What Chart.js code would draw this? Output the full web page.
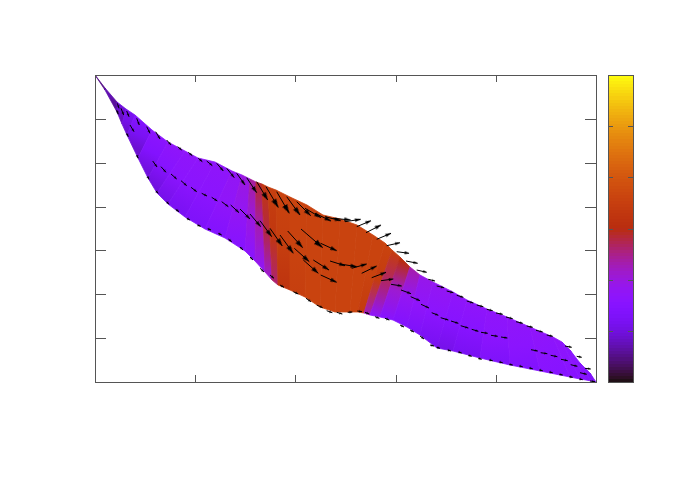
<!DOCTYPE html>
<html>
<head>
<meta charset="utf-8">
<style>
html,body{margin:0;padding:0;background:#fff}
canvas{position:absolute;left:0;top:0}
</style>
<script src="https://cdn.jsdelivr.net/npm/chart.js@4"></script>
</head>
<body>
<canvas id="main" width="692" height="485"></canvas>
<canvas id="bar" width="692" height="485"></canvas>
<script>
// Axis ticks (the reference prints no tick labels)
const xTicks = [0, 100.2, 200.4, 300.6, 400.8, 501];
const yTicks = [0, 43.86, 87.71, 131.57, 175.43, 219.29, 263.14, 307];
const cbTicks = [0, 1, 2, 3, 4, 5, 6];

// Band mesh: upper and lower edge stations
const topX = [0,10,22,31,40,57,73,90,103,120,137,147,155,161,167,173,181,195,212,228,245,262,278,290,297,305,315,325,338,358,372,392,412,435,458,467,475,485,495,501];
const topY = [307,294,280,273,267,252,240,231,224,220,211,207,203,200,198,195,192,185,177,167,163,157,147,139,132,125,115,107,100,90,82,73,65,55,45,40,32,19,9,0];
const botX = [0,10,22,27,32,43,53,62,73,90,110,130,150,160,170,177,183,195,210,225,240,255,263,269,275,285,298,312,325,342,358,385,415,445,475,485,491,496,499,501];
const botY = [307,292,270,258,247,224,204,189,178,165,153,144,131,121,110,102,97,92,85,75,70,70,70,69,67,65,62,55,47,34,31,24,17,11,5,3,2,1,0.5,0];

// Colour value of each station, at the upper edge, mid band and lower edge
const valTop = [0.5,0.7,1.0,1.2,1.4,1.6,1.7,1.7,1.7,1.7,1.8,2.0,2.4,2.9,3.3,3.5,3.6,3.6,3.6,3.6,3.6,3.6,3.6,3.6,3.4,3.0,2.3,1.9,1.8,1.7,1.7,1.7,1.7,1.7,1.7,1.6,1.5,1.4,1.3,1.2];
const valMid = [0.5,0.7,0.9,1.1,1.2,1.4,1.5,1.6,1.6,1.6,1.7,1.8,2.0,2.3,2.8,3.3,3.5,3.6,3.6,3.6,3.6,3.6,3.6,3.4,2.6,2.1,1.8,1.7,1.6,1.5,1.5,1.6,1.6,1.6,1.6,1.6,1.5,1.4,1.3,1.2];
const valBot = [0.5,0.6,0.8,0.9,0.9,1.0,1.0,1.1,1.2,1.3,1.4,1.5,1.6,1.8,2.1,2.6,3.2,3.5,3.6,3.6,3.6,3.6,3.4,2.2,1.7,1.5,1.4,1.3,1.2,1.1,1.2,1.3,1.4,1.5,1.5,1.5,1.4,1.3,1.3,1.2];

// Arrows: tail x, tail y, head x, head y
const upperArrows = [
[22.3,278.7,24,273.7],[26,273.7,28.7,267],[31.7,271,34,265.3],[35,257,39,250.3],[41.7,263.7,44.3,257],
[51.7,255.3,55,248.7],[60.7,250.3,65,243],[71.7,242,76,237],[82.7,235.3,86.7,232],[93.3,229.7,97.3,226.3],
[103.3,223.7,107.3,220.3],[111.7,221,117.3,216.3],[121.7,218.7,128.3,211],[131.7,213.7,139.3,204.3],[141.7,208.7,150,197],
[151.7,204.3,161.7,189.3],[161.7,200.3,172.7,182],[171,195.3,183.3,174.5],[181.7,190.3,194.3,168.7],[191.7,185.3,205,167],
[201.7,180.3,215.7,166.3],[210,173.7,226,164.3],[220,168.7,236,161],[230,165.3,245.7,161.3],[238.3,163.7,255.7,162],
[250,160.3,265.7,162.7],[261.7,155.3,276,161.3],[271,149.3,286,157],[281.7,142.7,296,148.7],[291.7,136.3,305,139.3],
[301.7,130.3,314,128.7],[311,121,322.7,118.7],[321.7,112,331.7,109.7],[333.3,102.7,340,101],[341.7,96,349,94.3],
[351.7,91,358.3,89.3],[361.7,86.7,368.3,84.7],[371.7,81,378.3,79],[381.7,77,388.3,75.3],[391.7,72.7,397.7,71.3],
[401,69,407.7,67.7],[411,65,417.7,63.3],[421,60.3,427.7,58.7],[431.7,56,437.7,54.7],[441,51.7,447.7,50],
[451.7,47,457.7,45.7],[470,36,476.7,34.7],[481.7,25.7,486.7,24.7],[490,13.7,495.7,13]
];
const middleArrows = [
[57.7,221,62,215],[66,215.3,71,209.7],[76,208,81.7,203],[86,201.3,91.7,196.3],[96,194.7,101.7,190.3],
[106.7,188.7,112,186],[116.7,184.7,122.3,181],[126.7,180.3,133.3,175.3],[135.7,177,144,169.3],[145,173,155,163],
[155,168,165.7,155.3],[165,161.3,176.7,145.3],[175,153.7,187.3,136],[185,147,198.3,128.7],[192.7,151,207.7,134.3],
[199.3,133.7,214.3,120.3],[206,153,227.7,134.3],[208.3,122,223.3,108.7],[218.3,122,234,112],[225.7,138.7,241.7,131.3],
[225.7,107,241.7,99.7],[235,121,250,116.3],[245,118,261.7,115.3],[256.7,113.7,271.7,118],[266.7,108.7,281.7,116],
[276.7,104.3,291,109.7],[286,101.3,298.3,103],[296,97.7,306.7,96],[306,92,316,88.3],[315.7,85.3,325,81.3],
[326,77.7,334,74],[336.7,69.3,343.3,66.7],[345.7,64.3,353.3,62],[356,61,363.3,58.7],[365.7,56.3,373.3,54],
[376.7,52.7,383.3,50.7],[386,49.7,392.7,48.7],[396,46.7,402.7,45.7],[406,45,412.3,44],[436,32.3,442.7,31],
[445.7,29.3,452.3,28.3],[455.7,26.7,462.3,25.3],[466,22.7,472.7,21.3],[475.7,17.3,482.3,15.7],[485,9.3,491.7,7.7]
];
const lowerArrows = [
[21.7,272,23.3,267.7],[31.7,248.7,33.3,245.3],[41.7,227,43.3,223.7],[52.7,205.3,54,202.7],[61,191,63.3,188.7],
[71.7,180.3,74,177.7],[80.7,172.7,84,170.3],[91.7,163.7,95,162],[102.3,157,105.7,155.7],[112.7,153.3,116,152],
[123.3,148.7,126.7,147],[133.3,143,136.7,140.3],[145,135,148,132],[155,125,158,122],[165,113.7,169,110],
[175,107,179,103.7],[185,97,189,94.7],[198.3,90.3,203.3,88],[211,83.7,216,80.3],[221.7,77,227.7,74.3],
[231.7,71.3,237.3,69.3],[241.7,69.7,247.3,68],[252.7,69.7,257.3,70],[262.3,71,267,70.3],[270,69.7,274.3,68],
[280,65.3,284.3,63.7],[290,63.7,294.3,62],[305,57,309,55],[315,52,319,50],[325,46,329,43],[335,37,339,36],
[341.7,34.7,345,33.7],[352.7,32,356,31],[363.3,30,366.7,29],[373.3,26.7,376.7,25.7],[383.3,23.7,386.7,22.7],
[394.3,22,397.7,21.3],[404.3,20,407.7,19.3],[414.3,17.7,417.7,17],[424.3,16,427.7,15.3],[434.3,14,437.7,13.3],
[444.3,12,447.7,11.3],[454.3,10,457.7,9.3],[464.3,7.7,467.7,7],[474.3,5.3,477.7,4.7],[484.3,3,487.7,2.3],[495,1,500,0.3]
];

const CB_MAX = 6, CB_LEVELS = 100, WASH = 0.06;
function palette(v){
  const t = Math.min(1, Math.max(0, v / CB_MAX));
  const r = Math.sqrt(t), g = t*t*t, b = Math.max(0, Math.sin(2*Math.PI*t));
  return 'rgb(' + [r,g,b].map(c => Math.round((c*(1-WASH)+WASH)*255)).join(',') + ')';
}

function headCanvas(len){
  const L = Math.max(3, Math.min(9, len*0.36)), W = Math.max(2.2, L*0.62);
  const c = document.createElement('canvas');
  c.width = Math.ceil(2*L); c.height = Math.ceil(W)+2;
  const g = c.getContext('2d'), m = c.height/2, tip = c.width/2;
  g.fillStyle = '#000';
  g.beginPath(); g.moveTo(tip-L, m-W/2); g.lineTo(tip, m); g.lineTo(tip-L, m+W/2); g.closePath(); g.fill();
  return c;
}

const datasets = [];
[...upperArrows, ...middleArrows, ...lowerArrows].forEach(a => {
  const img = headCanvas(Math.hypot(a[2]-a[0], a[3]-a[1]));
  datasets.push({
    data: [{x:a[0],y:a[1]},{x:a[2],y:a[3]}],
    showLine: true, borderColor:'#000', borderWidth:1, fill:false,
    pointRadius:[0,3], pointStyle:img, pointBorderWidth:0, pointBackgroundColor:'#000',
    pointRotation: ctx => {
      const s = ctx.chart.scales;
      if(!s.x || !s.y) return 0;
      const dx = s.x.getPixelForValue(a[2])-s.x.getPixelForValue(a[0]);
      const dy = s.y.getPixelForValue(a[3])-s.y.getPixelForValue(a[1]);
      return Math.atan2(dy,dx)*180/Math.PI;
    }
  });
});
for(let i=topX.length-2;i>=0;i--){
  const shade = ctx => {
    const a = ctx.chart.chartArea, s = ctx.chart.scales;
    if(!a) return palette(valMid[i]);
    const x0=s.x.getPixelForValue((topX[i]+topX[i+1])/2), y0=s.y.getPixelForValue((topY[i]+topY[i+1])/2);
    const x1=s.x.getPixelForValue((botX[i]+botX[i+1])/2), y1=s.y.getPixelForValue((botY[i]+botY[i+1])/2);
    const g = ctx.chart.ctx.createLinearGradient(x0,y0,x1,y1);
    g.addColorStop(0,palette(valTop[i])); g.addColorStop(0.5,palette(valMid[i])); g.addColorStop(1,palette(valBot[i]));
    return g;
  };
  datasets.push({
    data: [{x:topX[i],y:topY[i]},{x:topX[i+1],y:topY[i+1]},{x:botX[i+1],y:botY[i+1]},{x:botX[i],y:botY[i]},{x:topX[i],y:topY[i]}],
    showLine:true, fill:'shape', tension:0, pointRadius:0, borderWidth:0.8,
    backgroundColor:shade, borderColor:shade
  });
}

const FRAME = '#555';
function frameTicks(xLen,yLen){
  return { id:'frameTicks', afterDraw(chart){
    const c=chart.ctx, a=chart.chartArea, sx=chart.scales.x, sy=chart.scales.y;
    c.save(); c.strokeStyle=FRAME; c.lineWidth=1;
    c.beginPath();
    if(xLen) sx.ticks.forEach((t,i)=>{ if(i===0||i===sx.ticks.length-1) return; const p=Math.round(sx.getPixelForValue(t.value))+.5;
      c.moveTo(p,a.top); c.lineTo(p,a.top+xLen); c.moveTo(p,a.bottom); c.lineTo(p,a.bottom-xLen); });
    sy.ticks.forEach((t,i)=>{ if(i===0||i===sy.ticks.length-1) return; const p=Math.round(sy.getPixelForValue(t.value))+.5;
      c.moveTo(a.left,p); c.lineTo(a.left+yLen,p); c.moveTo(a.right,p); c.lineTo(a.right-yLen,p); });
    c.stroke();
    c.strokeRect(a.left+.5,a.top+.5,a.right-a.left,a.bottom-a.top);
    c.restore();
  }};
}
const hiddenAxis = {ticks:{display:false},grid:{display:false},border:{display:false}};
const noWidth = s => { s.width = 0; };
const noHeight = s => { s.height = 0; };

new Chart(document.getElementById('main'),{
  type:'scatter',
  data:{datasets},
  plugins:[frameTicks(7,11)],
  options:{
    responsive:false, animation:false, events:[],
    layout:{padding:{left:95,top:75,right:96,bottom:103}},
    plugins:{legend:{display:false},tooltip:{enabled:false},title:{display:false}},
    scales:{
      x:{...hiddenAxis,type:'linear',min:0,max:501,afterFit:noHeight,afterBuildTicks:s=>{s.ticks=xTicks.map(v=>({value:v}));}},
      y:{...hiddenAxis,type:'linear',min:0,max:307,afterFit:noWidth,afterBuildTicks:s=>{s.ticks=yTicks.map(v=>({value:v}));}}
    }
  }
});

new Chart(document.getElementById('bar'),{
  type:'bar',
  data:{labels:['colour'],datasets:[{
    data:[[0,CB_MAX]], barPercentage:1, categoryPercentage:1, borderWidth:0,
    backgroundColor:ctx=>{
      const a=ctx.chart.chartArea;
      if(!a) return '#000';
      const g=ctx.chart.ctx.createLinearGradient(0,a.bottom,0,a.top);
      for(let i=0;i<CB_LEVELS;i++){
        const col=palette((i+.5)/CB_LEVELS*CB_MAX);
        g.addColorStop(i/CB_LEVELS,col); g.addColorStop((i+1)/CB_LEVELS,col);
      }
      return g;
    }
  }]},
  plugins:[frameTicks(0,5)],
  options:{
    responsive:false, animation:false, events:[],
    layout:{padding:{left:608,top:75,right:59,bottom:103}},
    plugins:{legend:{display:false},tooltip:{enabled:false}},
    scales:{
      x:{...hiddenAxis,afterFit:noHeight},
      y:{...hiddenAxis,type:'linear',min:0,max:CB_MAX,afterFit:noWidth,afterBuildTicks:s=>{s.ticks=cbTicks.map(v=>({value:v}));}}
    }
  }
});
</script>
</body>
</html>
